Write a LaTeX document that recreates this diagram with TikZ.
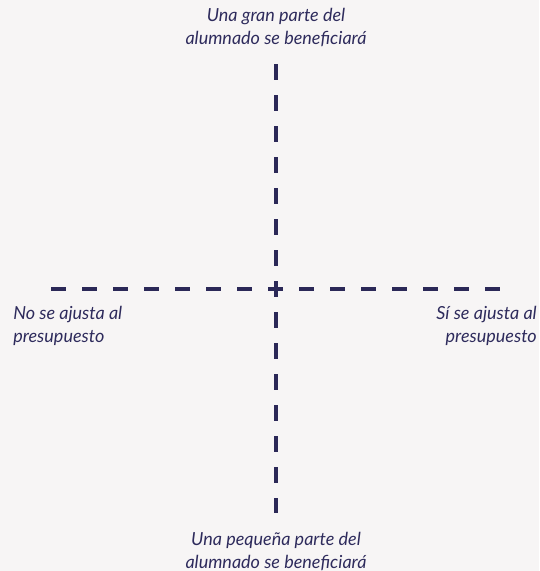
\documentclass[tikz,border=0pt]{standalone}
\usepackage{fontspec}
\setmainfont{Lato}
\definecolor{bgc}{HTML}{F7F5F5}
\definecolor{navy}{HTML}{2B2857}
\definecolor{txt}{HTML}{2E2B5C}
\begin{document}
\begin{tikzpicture}[x=0.75pt,y=-0.75pt,
  axis/.style={draw=navy,line width=3pt,line cap=butt,dash pattern=on 11.6pt off 11.65pt},
  lbl/.style={text=txt,font=\fontsize{13.5pt}{17.5pt}\selectfont\itshape,inner sep=0pt}]
\fill[bgc] (0,0) rectangle (539,571);
\useasboundingbox (0,0) rectangle (539,571);
\coordinate (vt) at (276,64.3);
\coordinate (vb) at (276,513);
\coordinate (hl) at (51,288.7);
\coordinate (hr) at (500.7,288.7);
\draw[axis] (vt) -- (vb);
\draw[axis] (hl) -- (hr);
\node[lbl,align=center] (top) at (276,27.5) {Una gran parte del\\alumnado se beneficiará};
\node[lbl,align=center] (bot) at (276,551.5) {Una pequeña parte del\\alumnado se beneficiará};
\node[lbl,align=left,anchor=west] (left) at (13,326) {No se ajusta al\\presupuesto};
\node[lbl,align=right,anchor=east] (right) at (537,326) {Sí se ajusta al\\presupuesto};
\end{tikzpicture}
\end{document}
